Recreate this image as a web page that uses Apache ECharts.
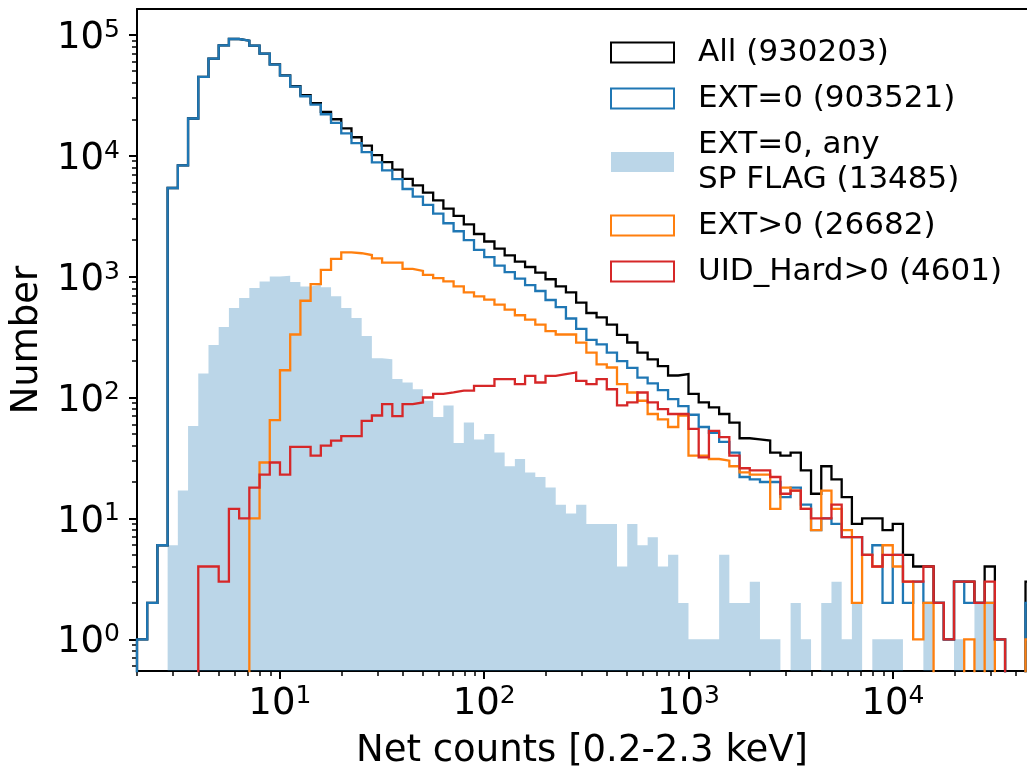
<!DOCTYPE html>
<html>
<head>
<meta charset="utf-8">
<script src="https://cdn.jsdelivr.net/npm/echarts@6/dist/echarts.min.js"></script>
<style>
html, body { margin: 0; padding: 0; background: #ffffff; }
#chart { width: 1027px; height: 775px; }
</style>
</head>
<body>
<div id="chart"></div>
<script>
// 88 logarithmic bins of net counts between 2 and 5e4
const binMin = 2;
const binMax = 50000;
const binCount = 88;

const countsAll = [
  1, 2, 6, 5400, 8300, 20300, 44900, 63500, 81700, 92200,
  89300, 81200, 69900, 56800, 46200, 37500, 31600, 27200, 23000, 20000,
  16800, 14200, 12100, 10100, 8830, 7680, 6440, 5680, 4940, 4270,
  3650, 3180, 2700, 2250, 1950, 1700, 1500, 1330, 1200, 1080,
  950, 830, 740, 610, 500, 460, 400, 330, 285, 235,
  207, 182, 152, 156, 107, 91, 83, 73, 62, 46,
  45, 44, 35, 33, 35, 25, 16, 27, 21, 15,
  9, 10, 10, 8, 9, 5, 4, 4, 2, 1,
  3, 3, 2, 4, 1, 0, 0, 3
];
const countsExt0 = [
  1, 2, 6, 5400, 8300, 20300, 44900, 63500, 81700, 92200,
  89300, 81200, 69900, 56700, 46000, 37200, 31000, 26400, 22000, 18700,
  15300, 12700, 10700, 8800, 7550, 6400, 5300, 4580, 3920, 3320,
  2760, 2370, 2000, 1660, 1450, 1230, 1090, 960, 850, 760,
  640, 560, 450, 370, 300, 275, 235, 200, 176, 146,
  131, 115, 97, 85, 72, 57, 51, 43, 35, 22,
  21, 20, 20, 15, 18, 13, 8, 10, 9, 7,
  7, 5, 6, 2, 5, 2, 3, 2, 2, 1,
  3, 2, 2, 2, 1, 0, 0, 2
];
const countsSpFlag = [
  0, 0, 0, 6, 17, 58, 158, 272, 382, 550,
  664, 804, 912, 1003, 1014, 900, 829, 855, 818, 686,
  550, 455, 322, 211, 207, 142, 133, 117, 94, 69,
  86, 42, 62, 45, 50, 35, 27, 31, 24, 22,
  18, 13, 11, 13, 9, 9, 9, 4, 9, 6,
  7, 4, 5, 2, 1, 1, 1, 5, 2, 2,
  3, 1, 1, 0, 2, 1, 0, 2, 3, 1,
  2, 0, 1, 1, 1, 0, 0, 2, 0, 0,
  1, 0, 2, 2, 0, 0, 0, 2
];
const countsExtPos = [
  0, 0, 0, 0, 0, 0, 0, 0, 0, 0,
  0, 10, 29, 65, 168, 332, 631, 866, 1135, 1400,
  1585, 1560, 1507, 1416, 1305, 1305, 1157, 1114, 1033, 970,
  912, 830, 740, 686, 644, 586, 533, 479, 441, 401,
  354, 332, 332, 284, 235, 188, 177, 129, 110, 94,
  73, 66, 57, 71, 33, 33, 31, 30, 27, 24,
  23, 23, 12, 18, 17, 12, 8, 17, 12, 8,
  2, 5, 4, 6, 4, 3, 1, 2, 0, 0,
  0, 1, 0, 2, 0, 0, 0, 1
];
const countsUidHard = [
  0, 0, 0, 0, 0, 0, 4, 4, 3, 12,
  10, 18, 23, 29, 23, 39, 39, 33, 40, 44,
  48, 48, 64, 71, 88, 70, 88, 91, 100, 107,
  110, 114, 114, 125, 125, 142, 142, 129, 151, 133,
  151, 156, 161, 137, 129, 142, 117, 86, 91, 110,
  91, 80, 73, 73, 55, 32, 53, 47, 33, 26,
  25, 25, 22, 16, 17, 12, 10, 10, 13, 7,
  7, 5, 4, 5, 5, 3, 3, 4, 2, 1,
  3, 3, 2, 3, 1, 0, 0, 0
];

const seriesNames = [
  'All (930203)',
  'EXT=0 (903521)',
  'EXT=0, any\nSP FLAG (13485)',
  'EXT>0 (26682)',
  'UID_Hard>0 (4601)'
];

// decade exponents carrying a labelled tick
const xDecades = [1, 2, 3, 4];
const yDecades = [0, 1, 2, 3, 4, 5];

const xLabel = 'Net counts [0.2-2.3 keV]';
const yLabel = 'Number';

// ---- axes work in log10 space ----
const logLo = Math.log10(binMin);
const logHi = Math.log10(binMax);
const xViewMax = 4.6563;   // the plot runs off the right edge of the canvas
const yLogMin = -0.262;
const yLogMax = 5.213;
const FLOOR = -10;         // empty bins drop below the visible range

const edges = [];
for (let i = 0; i <= binCount; i++) edges.push(logLo + (logHi - logLo) * i / binCount);

function stepOutline(counts) {
  const pts = [[edges[0], FLOOR]];
  counts.forEach((c, i) => {
    const y = c > 0 ? Math.log10(c) : FLOOR;
    pts.push([edges[i], y], [edges[i + 1], y]);
  });
  pts.push([edges[binCount], FLOOR]);
  return pts;
}

function minorTicks(fromDecade, toDecade, lo, hi) {
  const out = [];
  for (let n = fromDecade; n <= toDecade; n++) {
    for (let k = 2; k <= 9; k++) {
      const v = n + Math.log10(k);
      if (v >= lo - 1e-9 && v <= hi + 1e-9) out.push(v);
    }
  }
  return out;
}

const FONT = 'DejaVu Sans';
const powLabel = {
  fontFamily: FONT,
  color: '#000',
  rich: {
    b: { fontFamily: FONT, fontSize: 37, lineHeight: 37, color: '#000', padding: [7, 0, 0, 0], verticalAlign: 'middle' },
    s: { fontFamily: FONT, fontSize: 25, lineHeight: 22, color: '#000', padding: [0, 0, 9, 0], verticalAlign: 'middle' }
  },
  formatter: v => '{b|10}{s|' + Math.round(v) + '}'
};

const colors = ['#000000', '#1f77b4', 'rgba(31,119,180,0.3)', '#ff7f0e', '#d62728'];
const lineWidth = 2.3;
const spine = { show: true, onZero: false, lineStyle: { color: '#000', width: 2 } };
const noLine = { show: false, onZero: false };

function outlineSeries(name, counts, color) {
  return {
    name: name,
    type: 'line',
    data: stepOutline(counts),
    showSymbol: false,
    symbol: 'none',
    clip: true,
    silent: true,
    lineStyle: { color: color, width: lineWidth, join: 'miter' },
    itemStyle: { color: color }
  };
}

const chart = echarts.init(document.getElementById('chart'), null, { renderer: 'canvas' });

chart.setOption({
  animation: false,
  backgroundColor: '#ffffff',
  grid: { left: 137, top: 9, right: 0, bottom: 98, show: false },
  xAxis: [
    {
      type: 'value', min: logLo, max: xViewMax, position: 'bottom',
      axisLine: spine,
      splitLine: { show: false },
      axisTick: { show: true, customValues: xDecades, length: 8, lineStyle: { color: '#000', width: 2 } },
      axisLabel: Object.assign({ customValues: xDecades, margin: 11 }, powLabel),
      name: xLabel, nameLocation: 'middle', nameGap: 62,
      nameTextStyle: { fontFamily: FONT, fontSize: 37, color: '#000', lineHeight: 37 }
    },
    {
      type: 'value', min: logLo, max: xViewMax, position: 'bottom',
      axisLine: noLine,
      splitLine: { show: false },
      axisLabel: { show: false },
      axisTick: { show: true, customValues: minorTicks(0, 4, logLo, xViewMax), length: 5, lineStyle: { color: '#000', width: 1.5 } }
    },
    {
      type: 'value', min: logLo, max: xViewMax, position: 'top',
      axisLine: spine,
      splitLine: { show: false },
      axisLabel: { show: false },
      axisTick: { show: false }
    }
  ],
  yAxis: [
    {
      type: 'value', min: yLogMin, max: yLogMax, position: 'left',
      axisLine: spine,
      splitLine: { show: false },
      axisTick: { show: true, customValues: yDecades, length: 8, lineStyle: { color: '#000', width: 2 } },
      axisLabel: Object.assign({ customValues: yDecades, margin: 17 }, powLabel),
      name: yLabel, nameLocation: 'middle', nameGap: 85, nameRotate: 90,
      nameTextStyle: { fontFamily: FONT, fontSize: 37, color: '#000', lineHeight: 37 }
    },
    {
      type: 'value', min: yLogMin, max: yLogMax, position: 'left',
      axisLine: noLine,
      splitLine: { show: false },
      axisLabel: { show: false },
      axisTick: { show: true, customValues: minorTicks(-1, 5, yLogMin, yLogMax), length: 5, lineStyle: { color: '#000', width: 1.5 } }
    }
  ],
  legend: {
    orient: 'vertical',
    left: 610, top: 35, padding: 0,
    itemWidth: 63, itemHeight: 20, itemGap: 11,
    selectedMode: false,
    textStyle: { fontFamily: FONT, fontSize: 31, color: '#000', lineHeight: 35, padding: [0, 0, 0, 19] },
    data: [
      { name: seriesNames[0], icon: 'rect', itemStyle: { color: 'rgba(255,255,255,0)', borderColor: colors[0], borderWidth: 2 } },
      { name: seriesNames[1], icon: 'rect', itemStyle: { color: 'rgba(255,255,255,0)', borderColor: colors[1], borderWidth: 2 } },
      { name: seriesNames[2], icon: 'rect', itemStyle: { color: colors[2], borderWidth: 0 } },
      { name: seriesNames[3], icon: 'rect', itemStyle: { color: 'rgba(255,255,255,0)', borderColor: colors[3], borderWidth: 2 } },
      { name: seriesNames[4], icon: 'rect', itemStyle: { color: 'rgba(255,255,255,0)', borderColor: colors[4], borderWidth: 2 } }
    ]
  },
  series: [
    outlineSeries(seriesNames[0], countsAll, colors[0]),
    outlineSeries(seriesNames[1], countsExt0, colors[1]),
    {
      name: seriesNames[2],
      type: 'line',
      data: stepOutline(countsSpFlag),
      showSymbol: false,
      symbol: 'none',
      clip: true,
      silent: true,
      lineStyle: { width: 0, opacity: 0 },
      itemStyle: { color: colors[2] },
      areaStyle: { color: colors[2], opacity: 1, origin: 'start' }
    },
    outlineSeries(seriesNames[3], countsExtPos, colors[3]),
    outlineSeries(seriesNames[4], countsUidHard, colors[4])
  ]
});
</script>
</body>
</html>
